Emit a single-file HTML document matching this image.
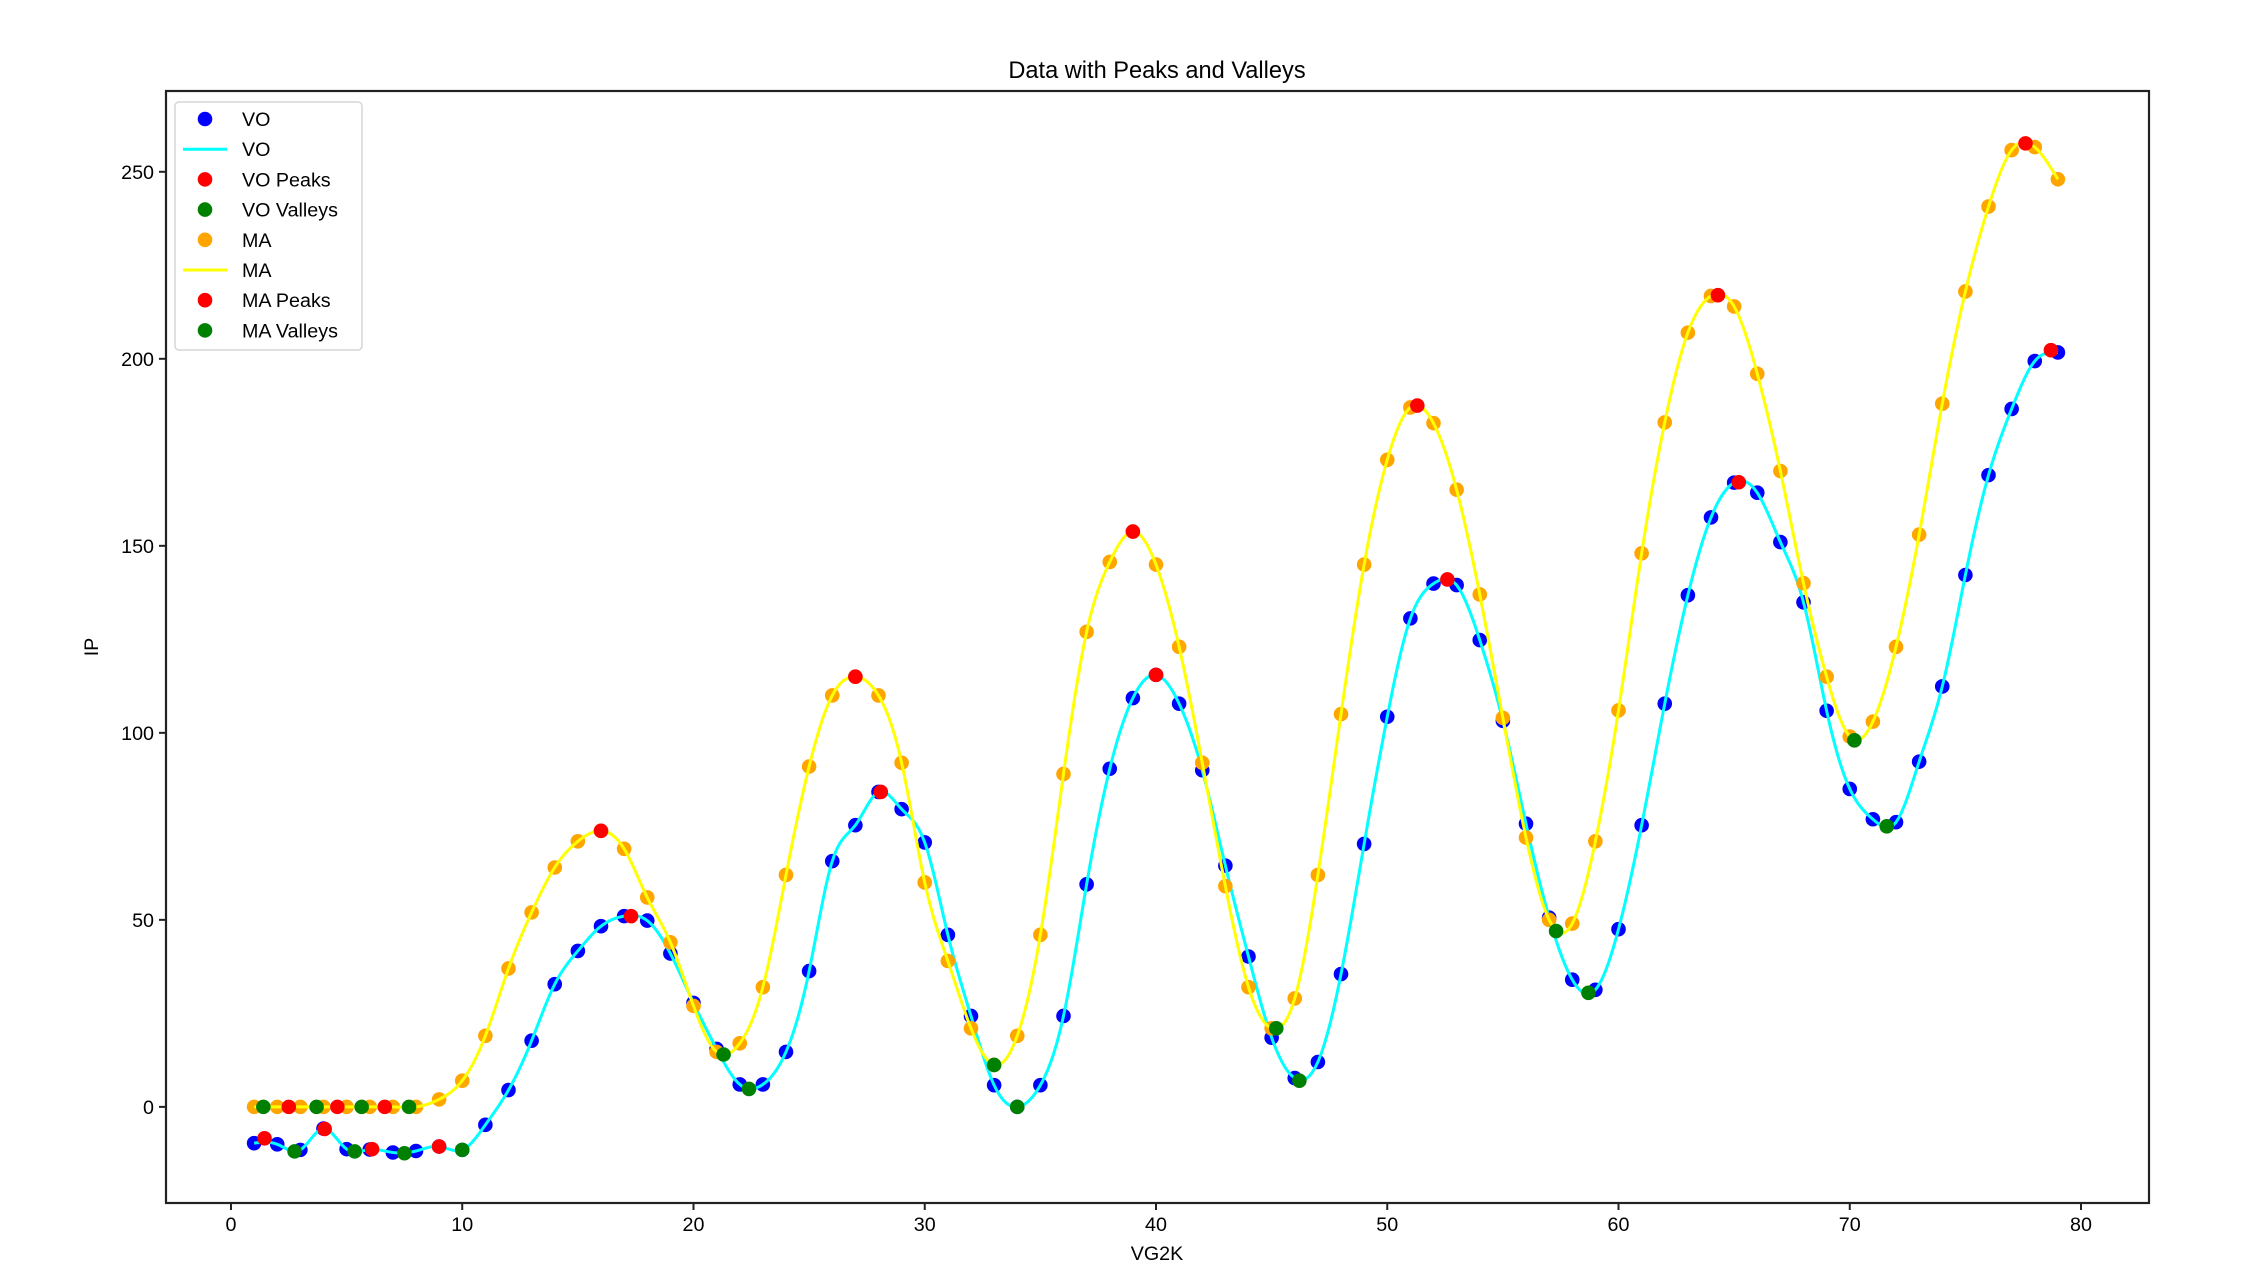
<!DOCTYPE html>
<html><head><meta charset="utf-8"><style>
html,body{margin:0;padding:0;background:#fff;}
svg{display:block;font-family:"Liberation Sans","DejaVu Sans",sans-serif;}
</style></head><body>
<svg id="chart" width="2265" height="1271" viewBox="0 0 2265 1271">
<rect x="0" y="0" width="2265" height="1271" fill="#fff"/>
<text x="1157" y="78" font-size="23.6" text-anchor="middle" fill="#000">Data with Peaks and Valleys</text>
<g id="marks"></g>
<rect x="166" y="91" width="1983" height="1112" fill="none" stroke="#222" stroke-width="2.2"/>
<g id="axes"></g>
<text x="1157" y="1260" font-size="19.7" text-anchor="middle" fill="#000">VG2K</text>
<text x="0" y="0" font-size="19.7" text-anchor="middle" fill="#000" transform="translate(98,647) rotate(-90)">IP</text>
<g id="legend"></g>
</svg>
<script>
const voValues=[-9.7,-10,-11.5,-5.8,-11.3,-11.4,-12.2,-11.8,-10.6,-11.5,-4.8,4.5,17.7,32.8,41.7,48.3,51,49.8,41,27.8,15.5,6,6,14.7,36.3,65.7,75.3,84.2,79.6,70.7,46,24.3,5.8,0,5.8,24.3,59.5,90.4,109.3,115.5,107.8,90,64.5,40.2,18.5,7.7,12,35.5,70.3,104.3,130.6,139.9,139.5,124.8,103.2,75.7,50.6,34,31.3,47.5,75.3,107.8,136.8,157.6,166.9,164.2,151,134.9,105.9,85,76.9,76.1,92.3,112.4,142.2,168.9,186.6,199.4,201.7];
const maValues=[0,0,0,0,0,0,0,0,2,7,19,37,52,64,71,73.8,69,56,44,27,14.7,17,32,62,91,110,115,110,92,60,39,21,11.2,19,46,89,127,145.7,153.8,145,123,92,59,32,21,29,62,105,145,173,187,182.8,165,137,104,72,50,49,71,106,148,183,207,216.8,214,196,170,140,115,99,103,123,153,188,218,240.7,255.8,256.6,248];
const voPeakX=[1.45,4.05,6.1,9.0,17.3,28.1,40.0,52.6,65.2,78.7];
const voPeakY=[-8.4,-5.9,-11.3,-10.6,51,84.2,115.5,141,167,202.3];
const voValleyX=[2.75,5.35,7.5,10.0,22.4,34.0,46.2,58.7,71.6];
const voValleyY=[-11.9,-11.9,-12.4,-11.5,4.8,0,7,30.5,75];
const maPeakX=[2.5,4.6,6.65,16.0,27.0,39.0,51.3,64.3,77.6];
const maPeakY=[0,0,0,73.8,115,153.8,187.5,217,257.6];
const maValleyX=[1.4,3.7,5.65,7.7,21.3,33.0,45.2,57.3,70.2];
const maValleyY=[0,0,0,0,14,11.2,21,47,98];
const xTicks=[0,10,20,30,40,50,60,70,80];
const yTicks=[0,50,100,150,200,250];

const NS="http://www.w3.org/2000/svg";
const PL=166,PR=2149,PT=91,PB=1203;
const XMIN=-2.81,XMAX=82.94,YMIN=-25.7,YMAX=271.6;
function sx(v){return PL+(v-XMIN)/(XMAX-XMIN)*(PR-PL);}
function sy(v){return PB-(v-YMIN)/(YMAX-YMIN)*(PB-PT);}
function mk(tag,attrs,parent){const e=document.createElementNS(NS,tag);for(const k in attrs)e.setAttribute(k,attrs[k]);parent.appendChild(e);return e;}
const marks=document.getElementById('marks');
const axes=document.getElementById('axes');
const R=7.3;

function spline(xs,ys){
  const n=xs.length,h=[],al=[],l=[1],mu=[0],z=[0],c=new Array(n).fill(0),b=[],d=[];
  for(let i=0;i<n-1;i++)h.push(xs[i+1]-xs[i]);
  for(let i=1;i<n-1;i++)al[i]=3/h[i]*(ys[i+1]-ys[i])-3/h[i-1]*(ys[i]-ys[i-1]);
  for(let i=1;i<n-1;i++){l[i]=2*(xs[i+1]-xs[i-1])-h[i-1]*mu[i-1];mu[i]=h[i]/l[i];z[i]=(al[i]-h[i-1]*z[i-1])/l[i];}
  for(let j=n-2;j>=0;j--){c[j]=(z[j]||0)-mu[j]*c[j+1];b[j]=(ys[j+1]-ys[j])/h[j]-h[j]*(c[j+1]+2*c[j])/3;d[j]=(c[j+1]-c[j])/(3*h[j]);}
  return function(x){let i=Math.min(n-2,Math.max(0,Math.floor(x-xs[0])));const t=x-xs[i];return ys[i]+b[i]*t+c[i]*t*t+d[i]*t*t*t;};
}
function drawScatter(xs,ys,color,name){
  const g=mk('g',{},marks);
  
  
  for(let i=0;i<ys.length;i++){
    const c=mk('circle',{cx:sx(xs[i]),cy:sy(ys[i]),r:R,fill:color},g);
    
    
  }
}
function drawLine(ys,color,name){
  const xs=ys.map((_,i)=>i+1);
  const f=spline(xs,ys);
  let d='';
  for(let k=0;k<=600;k++){const x=1+(xs.length-1)*k/600;d+=(k?'L':'M')+sx(x).toFixed(2)+','+sy(f(x)).toFixed(2);}
  const p=mk('path',{d:d,fill:'none',stroke:color,'stroke-width':3,'stroke-linejoin':'round'},marks);
  
  
}
const idx=voValues.map((_,i)=>i+1);
drawScatter(idx,voValues,'#0000ff','vo-scatter');
drawLine(voValues,'#00ffff','vo-line');
drawScatter(voPeakX,voPeakY,'#ff0000','vo-peaks');
drawScatter(voValleyX,voValleyY,'#008000','vo-valleys');
drawScatter(idx,maValues,'#ffa500','ma-scatter');
drawLine(maValues,'#ffff00','ma-line');
drawScatter(maPeakX,maPeakY,'#ff0000','ma-peaks');
drawScatter(maValleyX,maValleyY,'#008000','ma-valleys');

xTicks.forEach(v=>{
  const x=sx(v);
  const t=mk('line',{x1:x,x2:x,y1:PB,y2:PB+7,stroke:'#222','stroke-width':2},axes);
  
  
  const tx=mk('text',{x:x,y:PB+28,'font-size':19.7,'text-anchor':'middle',fill:'#000'},axes);
  tx.textContent=v;
  
  
});
yTicks.forEach(v=>{
  const y=sy(v);
  const t=mk('line',{x1:PL-7,x2:PL,y1:y,y2:y,stroke:'#222','stroke-width':2},axes);
  
  
  const tx=mk('text',{x:PL-12,y:y+7,'font-size':19.7,'text-anchor':'end',fill:'#000'},axes);
  tx.textContent=v;
  
  
});

const legend=document.getElementById('legend');
mk('rect',{x:175,y:102,width:187,height:248,rx:4,fill:'#fff','fill-opacity':0.8,stroke:'#d6d6d6','stroke-width':1.5},legend);
const entries=[['VO','dot','#0000ff'],['VO','line','#00ffff'],['VO Peaks','dot','#ff0000'],['VO Valleys','dot','#008000'],['MA','dot','#ffa500'],['MA','line','#ffff00'],['MA Peaks','dot','#ff0000'],['MA Valleys','dot','#008000']];
entries.forEach((e,i)=>{
  const y=119+i*30.2;
  const g=mk('g',{},legend);
  
  
  if(e[1]==='dot')mk('circle',{cx:205,cy:y,r:R,fill:e[2]},g);
  else mk('line',{x1:183,x2:227,y1:y,y2:y,stroke:e[2],'stroke-width':3},g);
  const t=mk('text',{x:242,y:y+7,'font-size':19.7,fill:'#000'},g);
  t.textContent=e[0];
});
</script>
</body></html>
